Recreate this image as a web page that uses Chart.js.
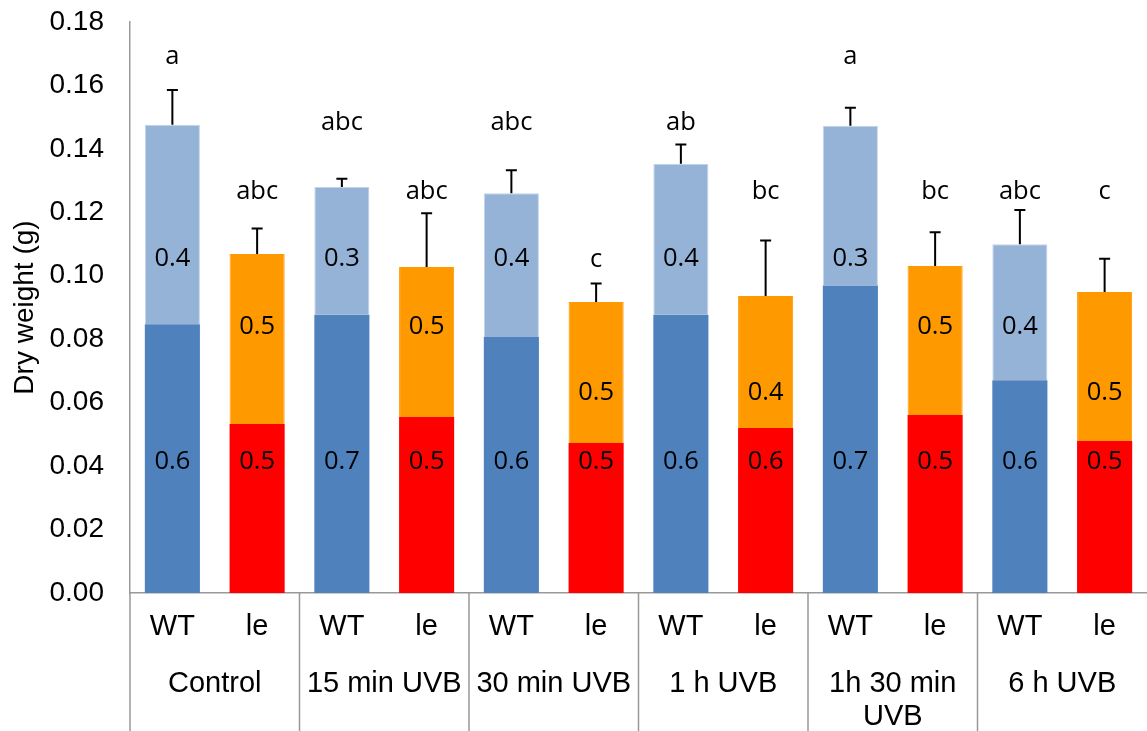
<!DOCTYPE html>
<html>
<head>
<meta charset="utf-8">
<script src="https://cdn.jsdelivr.net/npm/chart.js@4.4.1/dist/chart.umd.min.js"></script>
<style>
  body { margin: 0; background: #fff; }
  canvas { display: block; }
</style>
</head>
<body>
<canvas id="myChart" width="1147" height="731"></canvas>
<script>
// values
const genotypes = ['WT', 'le', 'WT', 'le', 'WT', 'le', 'WT', 'le', 'WT', 'le', 'WT', 'le'];
const treatments = ['Control', '15 min UVB', '30 min UVB', '1 h UVB', ['1h 30 min', 'UVB'], '6 h UVB'];
const lowerWeight = [0.0847, 0.0533, 0.0877, 0.0555, 0.0807, 0.0473, 0.0877, 0.0520, 0.0969, 0.0561, 0.0671, 0.0479];
const totalWeight = [0.1476, 0.1069, 0.1280, 0.1028, 0.1260, 0.0917, 0.1353, 0.0936, 0.1473, 0.1031, 0.1099, 0.0949];
const stdError = [0.0110, 0.0080, 0.0026, 0.0169, 0.0073, 0.0059, 0.0061, 0.0175, 0.0057, 0.0106, 0.0108, 0.0105];
const letters = ['a', 'abc', 'abc', 'abc', 'abc', 'c', 'ab', 'bc', 'a', 'bc', 'abc', 'c'];
const lowerShare = ['0.6', '0.5', '0.7', '0.5', '0.6', '0.5', '0.6', '0.6', '0.7', '0.5', '0.6', '0.5'];
const upperShare = ['0.4', '0.5', '0.3', '0.5', '0.4', '0.5', '0.4', '0.4', '0.3', '0.5', '0.4', '0.5'];

let upperWeight = totalWeight.map((t, i) => +(t - lowerWeight[i]).toFixed(4));

// where the text annotations sit (y in axis units)
let letterAt = [0.169, 0.1264, 0.1482, 0.1264, 0.1482, 0.105, 0.1482, 0.1264, 0.169, 0.1264, 0.1264, 0.1264];
let upperTextAt = [0.1053, 0.0839, 0.1053, 0.0839, 0.1053, 0.0631, 0.1053, 0.0631, 0.1053, 0.0839, 0.0839, 0.0631];
let lowerTextAt = 0.0415;

let colors = {
    WT: ['#4F81BD', '#95B3D7'],
    le: ['#FF0000', '#FF9900']
};
let axisGray = '#999999';
let arial = 'Arial, "Liberation Sans", sans-serif';
let labelFont = '"Open Sans", "Noto Sans", sans-serif';

let extras = {
    id: 'extras',
    afterDatasetsDraw(chart) {
        let ctx = chart.ctx;
        let x = chart.scales.x;
        let y = chart.scales.y;
        let area = chart.chartArea;
        ctx.save();

        // error bars
        ctx.strokeStyle = '#000';
        ctx.lineWidth = 2;
        totalWeight.forEach((t, i) => {
            let px = x.getPixelForValue(i);
            let yTop = y.getPixelForValue(t + stdError[i]);
            ctx.beginPath();
            ctx.moveTo(px, y.getPixelForValue(t));
            ctx.lineTo(px, yTop);
            ctx.moveTo(px - 5.5, yTop);
            ctx.lineTo(px + 5.5, yTop);
            ctx.stroke();
        });

        // letters and shares
        ctx.fillStyle = '#000';
        ctx.textAlign = 'center';
        ctx.textBaseline = 'middle';
        ctx.font = '25.5px ' + labelFont;
        genotypes.forEach((g, i) => {
            let px = x.getPixelForValue(i);
            ctx.fillText(letters[i], px, y.getPixelForValue(letterAt[i]));
            ctx.fillText(upperShare[i], px, y.getPixelForValue(upperTextAt[i]));
            ctx.fillText(lowerShare[i], px, y.getPixelForValue(lowerTextAt));
        });

        // group separators and extended axis line
        let bottom = chart.height;
        ctx.strokeStyle = axisGray;
        ctx.lineWidth = 1.5;
        ctx.beginPath();
        ctx.moveTo(area.left, area.bottom);
        ctx.lineTo(area.left, bottom);
        for (let k = 1; k < treatments.length; k++) {
            let sx = (x.getPixelForValue(2 * k - 1) + x.getPixelForValue(2 * k)) / 2;
            ctx.moveTo(sx, area.bottom);
            ctx.lineTo(sx, bottom);
        }
        ctx.stroke();

        // treatment names
        ctx.fillStyle = '#000';
        ctx.font = '29px ' + arial;
        ctx.textBaseline = 'alphabetic';
        treatments.forEach((name, k) => {
            let cx = (x.getPixelForValue(2 * k) + x.getPixelForValue(2 * k + 1)) / 2;
            let lines = Array.isArray(name) ? name : [name];
            lines.forEach((line, j) => {
                ctx.fillText(line, cx, area.bottom + 99 + j * 33);
            });
        });
        ctx.restore();
    }
};

let ctx = document.getElementById('myChart').getContext('2d');

let myChart = new Chart(ctx, {
    type: 'bar',
    data: {
        labels: genotypes,
        datasets: [{
            data: lowerWeight,
            backgroundColor: genotypes.map(g => colors[g][0]),
            barPercentage: 0.65,
            categoryPercentage: 1
        }, {
            data: upperWeight,
            backgroundColor: genotypes.map(g => colors[g][1]),
            borderColor: genotypes.map(g => g === 'WT' ? '#C3D4EA' : colors[g][1]),
            borderWidth: 1,
            borderSkipped: 'bottom',
            barPercentage: 0.65,
            categoryPercentage: 1
        }]
    },
    options: {
        responsive: false,
        animation: false,
        layout: { padding: { top: 22, right: 0, left: 0, bottom: 0 } },
        plugins: {
            legend: { display: false },
            tooltip: { enabled: false }
        },
        scales: {
            x: {
                stacked: true,
                grid: { display: false, drawTicks: false },
                border: { color: axisGray, width: 1.5 },
                ticks: { color: '#000', font: { family: arial, size: 29 }, padding: 17, maxRotation: 0 },
                afterFit: s => { s.height = 138; s.paddingLeft = 0; s.paddingRight = 0; }
            },
            y: {
                stacked: true,
                min: 0,
                max: 0.18,
                grid: { display: false, drawTicks: false },
                border: { color: axisGray, width: 1.5 },
                ticks: {
                    stepSize: 0.02,
                    color: '#000',
                    font: { family: arial, size: 28 },
                    padding: 26,
                    callback: v => v.toFixed(2)
                },
                title: {
                    display: true,
                    text: 'Dry weight (g)',
                    color: '#000',
                    font: { family: arial, size: 28 },
                    padding: { top: 8, bottom: 0 }
                },
                afterFit: s => { s.width = 130; s.paddingTop = 0; s.paddingBottom = 0; }
            }
        }
    },
    plugins: [extras]
});
</script>
</body>
</html>
